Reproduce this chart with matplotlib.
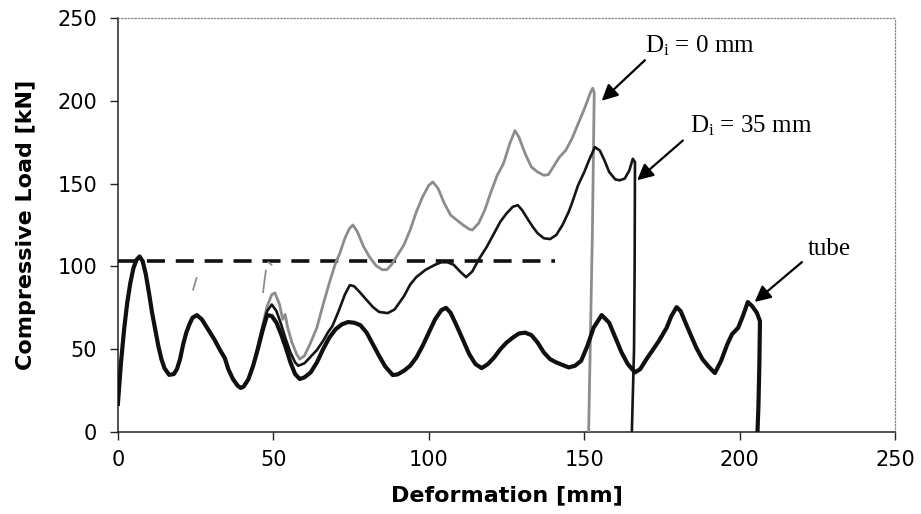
# -*- coding: utf-8 -*-
"""
Compressive load vs deformation, tube and filled tubes
"""
import matplotlib
matplotlib.use('Agg')
import matplotlib.pyplot as plt

#====================================================
#                    Data
#====================================================
# common first folds, all three curves lie on top of each other
x_start = [0, 1, 2, 3, 4, 5, 6, 7, 8, 9,
           10, 11, 12, 13, 14, 15, 16.5, 18, 19, 20,
           21, 22, 23, 24, 25.4, 27, 29, 31, 33, 34.4,
           35.5, 37, 38.5, 39.5, 40.5, 42, 43.5]
y_start = [17, 42, 62, 78, 90, 99, 104, 106, 103, 95,
           84, 72, 62, 52, 44, 38.5, 34.5, 35, 38, 44,
           53, 60, 65, 69, 70.6, 68, 62, 56, 49, 44.6,
           38, 32, 28, 26.6, 27.5, 32, 40]

# empty tube
x_tube = [45, 46.5, 48, 49.5, 51, 52.5, 54, 55.5, 57, 58.5,
          60, 62, 64, 66, 68, 70, 72, 74, 76, 78,
          80, 82, 84, 86, 88.4, 90, 92, 94, 96, 98,
          100, 102, 104, 105.5, 107, 109, 111, 113, 115, 117,
          119, 121, 123, 125, 127, 129, 131, 133, 135, 137,
          139, 141, 143, 145, 147, 149, 151, 153, 155.6, 158,
          160, 162, 164, 166.3, 168, 170, 172, 174, 176.5, 178,
          179.7, 181, 183, 186, 188, 190, 192, 194, 196, 197.5,
          199.5, 201, 202.6, 204, 205.5, 206.5, 206.3, 206, 205.7]
y_tube = [50, 61, 70.6, 70, 66, 59, 51, 42, 35, 32,
          33, 36, 42, 50, 57, 62, 65, 66.4, 66, 64.5,
          60, 53, 46, 39.5, 34.4, 34.8, 37, 40, 45, 52,
          60, 68, 73.5, 75, 72, 64, 55.5, 47, 41, 38.6,
          41, 45, 50, 54, 57, 59.5, 60, 58.5, 54, 48,
          44, 42, 40.5, 39, 40, 43, 52, 63, 70.6, 66,
          57, 48, 41, 36, 38, 44, 49.5, 55, 63, 70,
          75.4, 73, 64, 51, 44, 39.5, 35.6, 43, 53, 59,
          63, 70, 78.5, 76, 72, 67, 40, 15, 0]

# Di = 35 mm
x_d35 = [45, 46.5, 48, 49.5, 51, 52.5, 54, 55.5, 57, 58,
         60, 62, 64, 66, 67.5, 69, 71, 73, 74.6, 76,
         78, 80, 82, 84, 86.8, 89, 92, 94, 96, 99,
         102, 104, 106, 108, 110, 112, 114, 116, 118.6, 121,
         123, 125, 127, 128.6, 130, 132, 133.5, 135, 137, 139,
         141, 143, 145, 146, 148, 150, 151.5, 153.4, 155, 156.5,
         158, 160, 161.4, 163, 164.5, 165.6, 166.3, 166.2, 166, 165.3]
y_d35 = [51, 63, 73, 77, 73, 65, 56, 48, 42, 40,
         41.5, 45.5, 49.5, 55, 60, 64, 73, 83, 88.7, 88,
         84, 79.7, 75.5, 72.5, 71.8, 74, 82, 89, 93.6, 98,
         101, 102.5, 102.5, 101, 97, 93.5, 97, 104, 111.7, 120,
         127, 132, 136, 137, 134, 128, 123.7, 120, 117, 116.5,
         119, 125, 133, 138, 149, 157, 164, 172, 170, 164,
         157, 152.5, 152, 153, 158, 165, 163, 100, 50, 0]

# Di = 0 mm
x_d0 = [45, 46.5, 48, 49.5, 50.5, 52, 53, 53.8, 54.6, 56,
        57.5, 58.5, 60, 62, 64, 66, 68, 70, 71.4, 73,
        74.5, 75.6, 77, 79, 81, 83, 85, 86.5, 88, 90,
        92, 94, 96, 98, 100, 101.3, 103, 105, 107, 109,
        111, 113, 114, 116, 118, 120, 122, 124, 126, 127.7,
        129, 131, 133, 135, 137, 138.5, 140, 142, 144, 146,
        148, 150, 152, 152.7, 153.2, 152.6, 151.8, 151.4]
y_d0 = [52, 64, 76, 83, 84, 77, 68, 71, 63, 54,
        47, 44, 46, 54, 63, 77, 90, 102, 108, 117,
        123, 125, 121, 112, 105.5, 100.5, 98, 98, 101, 107,
        113, 122, 133, 142, 149, 151, 147, 138, 131, 128,
        125, 122.5, 122, 126, 134, 145, 155, 162, 174, 182,
        178, 168, 160, 157, 155, 155.5, 160, 166, 170, 177,
        186, 195, 205, 207.6, 205, 120, 40, 0]

# stray pen strokes of the Di = 0 mm record
x_strays = [[24.2, 25.3], [46.7, 47.2, 47.6], [48.4, 49.4]]
y_strays = [[86, 93], [84.5, 92, 97.5], [102.5, 101]]

# reference load level
x_ref = [0, 140.5]
y_ref = [103, 103]

#====================================================
#                       Plotting
#====================================================
plt.rcParams['mathtext.fontset'] = 'custom'
plt.rcParams['mathtext.rm'] = 'Liberation Serif'
plt.rcParams['mathtext.it'] = 'Liberation Serif'

fig = plt.figure(figsize=(9.21, 5.14), dpi=100)
ax = fig.add_axes([0.128, 0.1595, 0.844, 0.8055])

ax.plot(x_start + x_d0, y_start + y_d0, color='#8c8c8c', lw=2.0, zorder=3)
for xs, ys in zip(x_strays, y_strays):
    ax.plot(xs, ys, color='#8c8c8c', lw=1.3, zorder=3)
ax.plot(x_start + x_d35, y_start + y_d35, color='#151515', lw=1.9, zorder=4)
ax.plot(x_start + x_tube, y_start + y_tube, color='#101010', lw=3.0, zorder=5)
ax.plot(x_ref, y_ref, color='#101010', lw=2.6, dashes=(5, 3), zorder=2)

# labels with arrows
arr = dict(arrowstyle='-|>', color='black', lw=1.6, mutation_scale=24,
           shrinkA=0, shrinkB=0)
ax.annotate('', xy=(155.6, 200), xytext=(169.5, 224.5), arrowprops=arr)
ax.annotate('', xy=(167, 152), xytext=(181.7, 176), arrowprops=arr)
ax.annotate('', xy=(204.8, 78.5), xytext=(220, 102.6), arrowprops=arr)
ax.text(169.5, 229.3, r'D$_{\mathrm{i}}$ = 0 mm', fontsize=18,
        family='Liberation Serif', va='baseline')
ax.text(184, 181, r'D$_{\mathrm{i}}$ = 35 mm', fontsize=18,
        family='Liberation Serif', va='baseline')
ax.text(221.8, 106.8, 'tube', fontsize=18,
        family='Liberation Serif', va='baseline')

ax.set_xlim(0, 250)
ax.set_ylim(0, 250)
ax.set_xticks([0, 50, 100, 150, 200, 250])
ax.set_yticks([0, 50, 100, 150, 200, 250])
ax.tick_params(direction='out', length=6, width=1.0, labelsize=15,
               color='#222222')
ax.tick_params(axis='x', pad=7)
ax.tick_params(axis='y', pad=9)

ax.set_xlabel('Deformation [mm]', fontsize=16, fontweight='bold', labelpad=11)
ax.set_ylabel('Compressive Load [kN]', fontsize=16, fontweight='bold',
              labelpad=15)

for side in ['top', 'right']:
    ax.spines[side].set_linestyle(':')
    ax.spines[side].set_color('#888888')
    ax.spines[side].set_linewidth(0.9)
for side in ['left', 'bottom']:
    ax.spines[side].set_color('#222222')
    ax.spines[side].set_linewidth(1.1)

fig.savefig('out.png', dpi=100)
